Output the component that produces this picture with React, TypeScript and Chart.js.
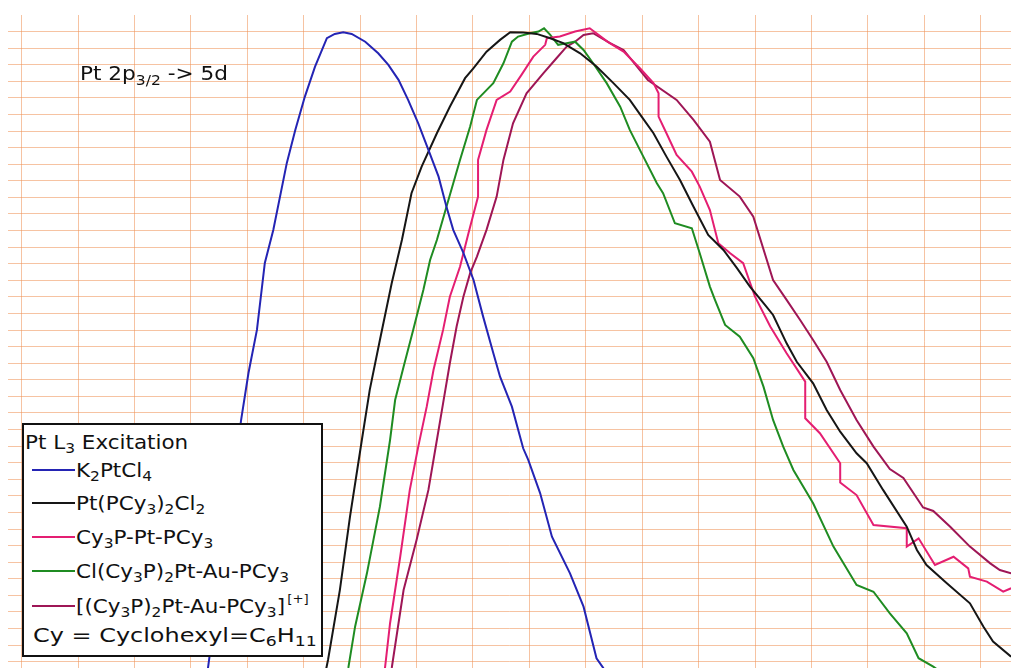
import React, { useEffect, useRef } from "react";
import { Chart, registerables } from "chart.js";

Chart.register(...registerables);

// Grid: vertical lines at integer energy steps, horizontal lines at integer absorption steps
const xGridLines = [0, 1, 2, 3, 4, 5, 6, 7, 8, 9, 10, 11, 12, 13, 14, 15, 16, 17];
const yGridLines = [0, 1, 2, 3, 4, 5, 6, 7, 8, 9, 10, 11, 12, 13, 14, 15, 16, 17, 18, 19, 20, 21, 22, 23, 24, 25, 26, 27, 28, 29, 30, 31, 32, 33, 34, 35, 36, 37, 38];
const X_MIN = -0.243;
const X_MAX = 17.538;
const Y_MIN = -0.38;
const Y_MAX = 39.0;

const seriesLabels = [
  "K2PtCl4",
  "Pt(PCy3)2Cl2",
  "Cy3P-Pt-PCy3",
  "Cl(Cy3P)2Pt-Au-PCy3",
  "[(Cy3P)2Pt-Au-PCy3][+]",
];
const seriesColors = ["#2424b4", "#161616", "#e41e72", "#1f8c22", "#9e1656"];

const k2ptcl4X = [3.25, 3.89, 4.02, 4.17, 4.31, 4.46, 4.70, 4.85, 5.02, 5.20, 5.41, 5.55, 5.70, 5.85, 6.09, 6.32, 6.50, 6.68, 6.85, 7.03, 7.21, 7.39, 7.53, 7.65, 7.83, 8.01, 8.18, 8.36, 8.48, 8.69, 8.89, 8.98, 9.19, 9.40, 9.72, 9.96, 10.19, 10.31, 10.43];
const k2ptcl4Y = [-1.71, 14.58, 17.41, 20.01, 24.05, 26.04, 30.08, 32.07, 34.08, 35.89, 37.60, 37.86, 37.96, 37.86, 37.39, 36.69, 35.99, 35.09, 33.88, 32.47, 30.86, 29.25, 27.44, 26.04, 24.65, 23.02, 20.81, 18.62, 17.19, 15.38, 12.87, 12.17, 10.17, 7.54, 5.33, 3.32, 0.21, -0.38, -1.71];

const ptpcyX = [5.32, 5.43, 5.64, 5.82, 6.03, 6.17, 6.35, 6.56, 6.74, 6.91, 7.09, 7.36, 7.59, 7.86, 8.01, 8.24, 8.48, 8.66, 8.89, 9.13, 9.37, 9.60, 9.90, 10.19, 10.49, 10.78, 10.99, 11.20, 11.43, 11.67, 11.91, 12.17, 12.44, 12.68, 12.91, 13.18, 13.32, 13.56, 13.74, 14.03, 14.27, 14.51, 14.80, 14.98, 15.27, 15.69, 15.87, 16.04, 16.40, 16.81, 17.05, 17.22, 17.54, 17.79];
const ptpcyY = [-1.71, 0.10, 4.32, 8.75, 13.37, 16.39, 19.40, 22.84, 25.43, 28.25, 29.86, 31.87, 33.47, 35.19, 35.79, 36.79, 37.50, 37.96, 37.94, 37.86, 37.60, 37.30, 36.69, 35.89, 34.89, 33.88, 32.87, 31.87, 30.46, 29.05, 27.44, 25.74, 24.83, 23.73, 22.62, 21.51, 20.91, 19.20, 18.09, 16.79, 15.18, 13.87, 12.57, 11.97, 10.36, 8.14, 6.74, 5.83, 4.73, 3.52, 2.11, 1.21, 0.30, -0.38];

const cyptX = [6.35, 6.44, 6.53, 6.71, 6.88, 7.03, 7.18, 7.30, 7.47, 7.59, 7.77, 7.92, 8.09, 8.09, 8.24, 8.42, 8.66, 8.86, 9.07, 9.28, 9.31, 9.54, 9.81, 10.07, 10.39, 10.67, 10.96, 11.20, 11.29, 11.29, 11.43, 11.61, 11.88, 12.02, 12.20, 12.35, 12.56, 12.79, 13.00, 13.27, 13.56, 13.89, 13.89, 14.15, 14.51, 14.51, 14.80, 15.10, 15.69, 15.69, 15.90, 16.19, 16.52, 16.78, 16.81, 17.11, 17.40, 17.54, 17.70];
const cyptY = [-1.71, -0.38, 2.32, 6.33, 10.36, 12.97, 15.38, 17.59, 20.01, 22.01, 23.82, 25.84, 28.05, 30.26, 32.07, 33.88, 34.38, 35.39, 36.49, 37.20, 37.60, 37.70, 38.00, 38.20, 37.38, 36.79, 35.79, 34.89, 34.28, 32.87, 31.87, 30.56, 29.55, 28.65, 27.24, 25.24, 24.63, 24.03, 22.01, 20.21, 18.60, 16.89, 14.68, 13.78, 11.97, 10.81, 10.05, 8.24, 8.05, 6.94, 7.44, 5.83, 6.33, 5.63, 5.13, 4.83, 4.22, 4.43, 4.63];

const clptauX = [5.68, 5.79, 5.91, 6.12, 6.35, 6.53, 6.62, 6.77, 6.94, 7.12, 7.24, 7.36, 7.53, 7.77, 7.95, 8.07, 8.36, 8.54, 8.69, 8.80, 9.01, 9.16, 9.26, 9.37, 9.51, 9.66, 9.81, 9.96, 10.13, 10.37, 10.61, 10.78, 11.02, 11.26, 11.37, 11.58, 11.88, 12.02, 12.20, 12.29, 12.47, 12.73, 12.97, 13.15, 13.32, 13.50, 13.68, 14.03, 14.39, 14.80, 15.10, 15.39, 15.69, 15.90, 16.16, 16.37];
const clptauY = [-1.71, -0.38, 2.11, 5.33, 9.35, 13.37, 15.78, 17.79, 20.01, 22.42, 24.23, 25.43, 27.44, 30.26, 32.27, 33.88, 34.89, 36.09, 37.39, 37.70, 37.90, 38.00, 38.20, 37.80, 37.20, 37.30, 37.39, 36.89, 36.09, 34.89, 33.47, 32.07, 30.46, 28.85, 28.25, 26.44, 26.14, 24.63, 22.62, 21.82, 20.31, 19.60, 18.30, 16.59, 14.58, 12.97, 11.56, 9.55, 6.94, 4.63, 4.22, 2.92, 1.71, 0.21, -0.30, -0.80];

const ptauCationX = [6.46, 6.56, 6.68, 6.77, 7.00, 7.21, 7.36, 7.47, 7.59, 7.71, 7.83, 7.95, 8.07, 8.24, 8.42, 8.54, 8.71, 8.95, 9.25, 9.48, 9.66, 9.81, 9.96, 10.13, 10.43, 10.67, 11.10, 11.61, 11.91, 12.20, 12.38, 12.73, 12.97, 13.32, 13.56, 13.80, 14.03, 14.27, 14.51, 14.80, 15.10, 15.39, 15.63, 15.98, 16.16, 16.46, 16.81, 17.17, 17.34, 17.54, 17.70];
const ptauCationY = [-1.71, -0.38, 2.32, 4.32, 7.34, 10.36, 13.37, 15.58, 18.00, 20.21, 22.01, 23.43, 24.43, 26.04, 28.05, 30.26, 32.47, 34.28, 35.49, 36.39, 37.09, 37.39, 37.80, 37.90, 37.30, 36.89, 35.08, 33.88, 32.67, 31.36, 29.05, 28.05, 26.84, 23.02, 21.82, 20.61, 19.40, 18.09, 16.39, 14.58, 12.97, 11.62, 11.08, 9.30, 9.09, 8.14, 6.94, 5.93, 5.53, 5.33, 5.17];

const seriesX = [k2ptcl4X, ptpcyX, cyptX, clptauX, ptauCationX];
const seriesY = [k2ptcl4Y, ptpcyY, cyptY, clptauY, ptauCationY];

const GRID_COLOR = "rgba(238, 146, 86, 0.55)";
const FONT = "'DejaVu Sans', Verdana, sans-serif";
const SX = 1.13;

const Sub = ({ children }: { children: React.ReactNode }) => (
  <span style={{ fontSize: "0.72em", position: "relative", top: "0.32em" }}>{children}</span>
);
const Sup = ({ children }: { children: React.ReactNode }) => (
  <span style={{ fontSize: "0.62em", position: "relative", top: "-0.85em", marginLeft: 2 }}>{children}</span>
);

const textStyle = (left: number, baseline: number, size: number, sx: number): React.CSSProperties => ({
  position: "absolute",
  left,
  top: baseline - Math.round(size * 0.846),
  fontFamily: FONT,
  fontSize: size,
  lineHeight: 1,
  color: "#111",
  whiteSpace: "nowrap",
  transform: `scaleX(${sx})`,
  transformOrigin: "left center",
});

const legendLineYs = [470, 503, 537, 571, 606];

const legendTexts: React.ReactNode[] = [
  <>K<Sub>2</Sub>PtCl<Sub>4</Sub></>,
  <>Pt(PCy<Sub>3</Sub>)<Sub>2</Sub>Cl<Sub>2</Sub></>,
  <>Cy<Sub>3</Sub>P-Pt-PCy<Sub>3</Sub></>,
  <>Cl(Cy<Sub>3</Sub>P)<Sub>2</Sub>Pt-Au-PCy<Sub>3</Sub></>,
  <>[(Cy<Sub>3</Sub>P)<Sub>2</Sub>Pt-Au-PCy<Sub>3</Sub>]<Sup>[+]</Sup></>,
];

export default function App() {
  const ref = useRef<HTMLCanvasElement>(null);

  useEffect(() => {
    document.body.style.margin = "0";
    document.body.style.overflow = "hidden";
    const canvas = ref.current;
    if (!canvas) return;
    const datasets = seriesLabels.map((label, i) => ({
      label,
      data: seriesX[i].map((x, j) => ({ x, y: seriesY[i][j] })),
      borderColor: seriesColors[i],
      backgroundColor: seriesColors[i],
      borderWidth: 2,
      pointRadius: 0,
      tension: 0,
      fill: false,
    }));
    const chart = new Chart(canvas, {
      type: "line",
      data: { datasets },
      options: {
        animation: false,
        responsive: false,
        devicePixelRatio: 1,
        layout: { padding: { left: 8, top: 15, right: 0, bottom: 0 } },
        plugins: { legend: { display: false }, tooltip: { enabled: false } },
        scales: {
          x: {
            type: "linear",
            min: X_MIN,
            max: X_MAX,
            border: { display: false },
            ticks: { display: false },
            grid: { color: GRID_COLOR, lineWidth: 1, drawTicks: false, tickLength: 0 },
            afterBuildTicks: (scale: any) => {
              scale.ticks = xGridLines.map((v) => ({ value: v }));
            },
          },
          y: {
            type: "linear",
            min: Y_MIN,
            max: Y_MAX,
            border: { display: false },
            ticks: { display: false },
            grid: { color: GRID_COLOR, lineWidth: 1, drawTicks: false, tickLength: 0 },
            afterBuildTicks: (scale: any) => {
              scale.ticks = yGridLines.map((v) => ({ value: v }));
            },
          },
        },
      } as any,
    });
    return () => chart.destroy();
  }, []);

  return (
    <div style={{ position: "relative", width: 1011, height: 668, overflow: "hidden", background: "#fff" }}>
      <canvas ref={ref} width={1011} height={668} style={{ display: "block" }} />
      <div style={textStyle(80, 80, 20, 1.08)}>
        Pt 2p<Sub>3/2</Sub> -&gt; 5d
      </div>
      <div
        style={{
          position: "absolute",
          left: 22,
          top: 423,
          width: 301,
          height: 234,
          boxSizing: "border-box",
          border: "2px solid #111",
          background: "#fff",
        }}
      />
      <div style={textStyle(25, 449, 19, SX)}>
        Pt L<Sub>3</Sub> Excitation
      </div>
      {legendTexts.map((t, i) => (
        <React.Fragment key={i}>
          <div
            style={{
              position: "absolute",
              left: 32,
              top: legendLineYs[i] - 1,
              width: 43,
              height: 2,
              background: seriesColors[i],
            }}
          />
          <div style={textStyle(76, legendLineYs[i] + 7, 19, SX)}>{t}</div>
        </React.Fragment>
      ))}
      <div style={textStyle(33, 642, 19, 1.26)}>
        Cy = Cyclohexyl=C<Sub>6</Sub>H<Sub>11</Sub>
      </div>
    </div>
  );
}
